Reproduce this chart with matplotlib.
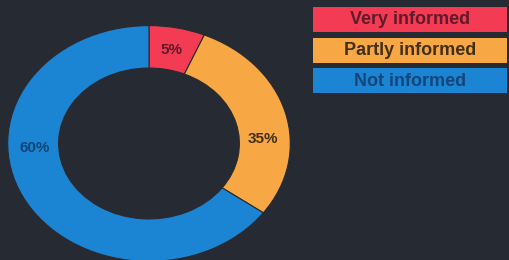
import matplotlib.pyplot as plt
import numpy as np
from matplotlib.patches import Rectangle

# data
categories = ["Very informed", "Partly informed", "Not informed"]
shares = [6.4, 28.6, 65.0]          # wedge sizes as drawn
pct_labels = ["5%", "35%", "60%"]    # printed labels
label_angles = [78.5, 3, 183]
colors = ["#f33c53", "#f7a744", "#1b84d3"]
text_colors = ["#62192b", "#433018", "#154679"]

BG = "#252a33"
W, H = 509, 260

fig = plt.figure(figsize=(W / 100, H / 100), dpi=100, facecolor=BG)

# donut, stretched horizontally like the reference
ax = fig.add_axes([7 / W, -2 / H, 284 / W, 237 / H])
ax.set_facecolor(BG)
ax.pie(shares, colors=colors, startangle=90, counterclock=False, radius=1,
       wedgeprops=dict(width=0.36, edgecolor="#2a2a2e", linewidth=0.8))
ax.set_aspect("auto")
ax.set_xlim(-1.005, 1.005)
ax.set_ylim(-1.005, 1.005)

r = 0.81
for lab, ang, tc in zip(pct_labels, label_angles, text_colors):
    a = np.deg2rad(ang)
    ax.text(r * np.cos(a), r * np.sin(a), lab, ha="center", va="center",
            fontsize=11, fontweight="bold", family="Liberation Sans", color=tc)

# legend boxes
for i, (cat, c, tc) in enumerate(zip(categories, colors, text_colors)):
    top = 7 + 30.5 * i
    fig.patches.append(Rectangle((313 / W, 1 - (top + 25) / H), 194 / W, 25 / H,
                                 transform=fig.transFigure, facecolor=c, edgecolor="none"))
    fig.text(410 / W, 1 - (top + 13) / H, cat, ha="center", va="center",
             fontsize=13, fontweight="bold", family="Liberation Sans", color=tc)

fig.savefig("out.png", dpi=100, facecolor=BG)
